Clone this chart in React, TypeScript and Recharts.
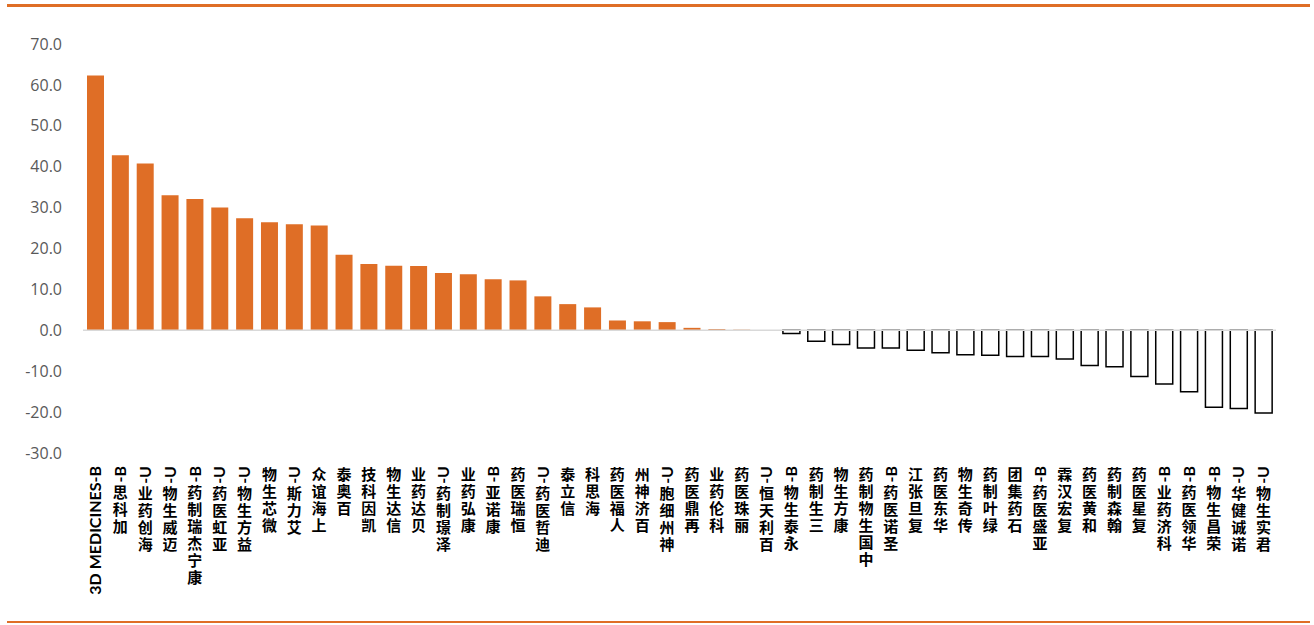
import React from 'react'
import { Bar, BarChart, Cell, ReferenceLine, XAxis, YAxis } from 'recharts'

const names = [
  '3D MEDICINES-B', '加科思-B', '海创药业-U', '迈威生物-U', '康宁杰瑞制药-B', '亚虹医药-U',
  '益方生物-U', '微芯生物', '艾力斯-U', '上海谊众', '百奥泰', '凯因科技',
  '信达生物', '贝达药业', '泽璟制药-U', '康弘药业', '康诺亚-B', '恒瑞医药',
  '迪哲医药-U', '信立泰', '海思科', '人福医药', '百济神州', '神州细胞-U',
  '再鼎医药', '科伦药业', '丽珠医药', '百利天恒-U', '永泰生物-B', '三生制药',
  '康方生物', '中国生物制药', '圣诺医药-B', '复旦张江', '华东医药', '传奇生物',
  '绿叶制药', '石药集团', '亚盛医药-B', '复宏汉霖', '和黄医药', '翰森制药',
  '复星医药', '科济药业-B', '华领医药-B', '荣昌生物-B', '诺诚健华-U', '君实生物-U',
]

const values = [
  62.3, 42.8, 40.8, 33.0, 32.1, 30.0, 27.4, 26.4, 25.9, 25.6, 18.5, 16.2,
  15.8, 15.7, 14.0, 13.7, 12.5, 12.2, 8.3, 6.4, 5.6, 2.4, 2.2, 2.0,
  0.6, 0.3, 0.15, 0.05, -0.8, -2.7, -3.5, -4.3, -4.3, -4.9, -5.5, -6.0,
  -6.1, -6.4, -6.4, -7.0, -8.6, -8.9, -11.3, -13.1, -15.0, -18.8, -19.1, -20.2,
]

const yTicks = [-30, -20, -10, 0, 10, 20, 30, 40, 50, 60, 70]

const ORANGE = '#DF6E26'
const LATIN_SIZE = 16
const LATIN_FONT = `bold ${LATIN_SIZE}px Lato`
const CJK_SIZE = 15
const CJK_STEP = 17

const data = names.map((name, i) => ({ name, value: values[i] }))

let ctx: CanvasRenderingContext2D | null = null
function textWidth(s: string) {
  if (!ctx) ctx = document.createElement('canvas').getContext('2d')
  if (!ctx) return s.length * 8
  ctx.font = LATIN_FONT
  return ctx.measureText(s).width
}

const isCjk = (ch: string) => /[\u4e00-\u9fff]/.test(ch)

// Excel-style vertical label: reads bottom-to-top, CJK upright, latin turned -90.
// Built from the top (end of string) downwards.
function VerticalTick(props: any) {
  const { x, y, payload } = props
  const chars = Array.from(String(payload.value))
  const parts: React.ReactNode[] = []
  let cursor = y
  let i = chars.length - 1
  while (i >= 0) {
    const cjk = isCjk(chars[i])
    let j = i
    while (j - 1 >= 0 && isCjk(chars[j - 1]) === cjk) j--
    const run = chars.slice(j, i + 1)
    if (cjk) {
      // vertical-rl stacks top-down, so feed it reversed
      parts.push(
        <text
          key={i}
          x={x}
          y={cursor + (CJK_STEP - CJK_SIZE) / 2}
          writingMode="vertical-rl"
          letterSpacing={CJK_STEP - CJK_SIZE}
          fontFamily="Noto Sans CJK SC"
          fontSize={CJK_SIZE}
          fontWeight="bold"
          fill="#000"
        >
          {run.reverse().join('')}
        </text>
      )
      cursor += run.length * CJK_STEP
    } else {
      const w = textWidth(run.join(''))
      parts.push(
        <text
          key={i}
          x={x}
          y={cursor}
          dy="0.36em"
          textAnchor="end"
          transform={`rotate(-90, ${x}, ${cursor})`}
          fontFamily="Lato"
          fontSize={LATIN_SIZE}
          fontWeight="bold"
          fill="#000"
        >
          {run.join('')}
        </text>
      )
      cursor += w + 1
    }
    i = j - 1
  }
  return <g>{parts}</g>
}

export default function App() {
  return (
    <div style={{ position: 'absolute', left: 0, top: 0, width: 1314, height: 625, background: '#fff' }}>
      <div style={{ position: 'absolute', left: 7, top: 4, width: 1303, height: 3, background: ORANGE }} />
      <div style={{ position: 'absolute', left: 7, top: 621, width: 1303, height: 2, background: ORANGE }} />
      <BarChart
        width={1314}
        height={625}
        data={data}
        margin={{ top: 44, right: 38, left: 0, bottom: 0 }}
      >
        <XAxis
          dataKey="name"
          interval={0}
          axisLine={false}
          tickLine={false}
          tickSize={0}
          tickMargin={13}
          height={172}
          tick={<VerticalTick />}
        />
        <YAxis
          type="number"
          domain={[-30, 70]}
          ticks={yTicks}
          width={83}
          axisLine={false}
          tickLine={false}
          tickMargin={15}
          tickFormatter={(v: number) => v.toFixed(1)}
          tick={{ fontSize: 16, fill: '#595959', fontFamily: 'Open Sans' }}
        />
        <Bar dataKey="value" barSize={17} isAnimationActive={false}>
          {data.map((d) => (
            <Cell
              key={d.name}
              fill={d.value >= 0 ? ORANGE : '#fff'}
              stroke={d.value >= 0 ? 'none' : '#000'}
              strokeWidth={1.5}
            />
          ))}
        </Bar>
        <ReferenceLine y={0} stroke="#d9d9d9" strokeWidth={1.5} />
      </BarChart>
    </div>
  )
}
